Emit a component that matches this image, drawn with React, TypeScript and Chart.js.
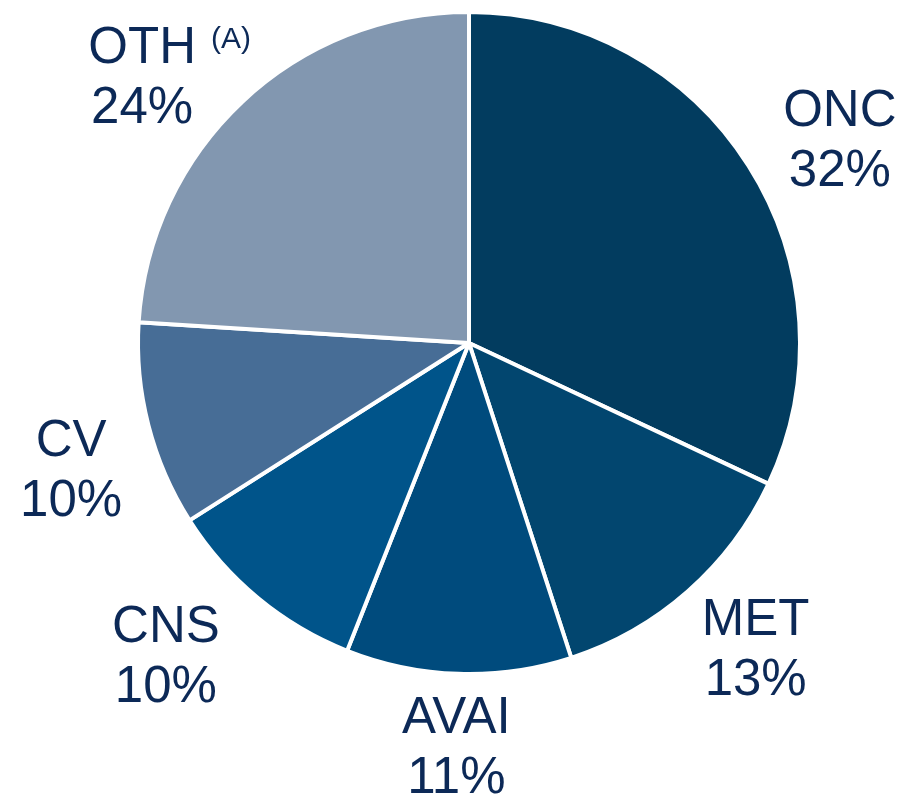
import React, { useEffect, useRef } from "react";
import { Chart, registerables } from "chart.js";

Chart.register(...registerables);

const categories = ["ONC", "MET", "AVAI", "CNS", "CV", "OTH"];
const shares = [32, 13, 11, 10, 10, 24];
const percentLabels = ["32%", "13%", "11%", "10%", "10%", "24%"];
const superscripts = ["", "", "", "", "", "(A)"];
const sliceColors = ["#023c5f", "#02466f", "#004b7d", "#00548a", "#476d96", "#8297b0"];

// label placement: distance from pie centre and angle adjustment (degrees)
const labelDistance = [424, 418, 402, 434, 417, 423];
const labelAngleNudge = [3.4, -1.9, 0, 4.7, -3.0, -7.4];

const TEXT_COLOR = "#0c2957";
const FONT_FAMILY = "'Liberation Sans', Arial, Helvetica, sans-serif";
const FONT_SIZE = 51;
const SUP_SIZE = 30;

const outsideLabels = {
  id: "outsideLabels",
  afterDraw(chart: any) {
    const ctx = chart.ctx;
    const meta = chart.getDatasetMeta(0);
    ctx.save();
    ctx.fillStyle = TEXT_COLOR;
    ctx.textAlign = "center";
    ctx.textBaseline = "alphabetic";
    meta.data.forEach((arc: any, i: number) => {
      const p = arc.getProps(["x", "y", "startAngle", "endAngle"], true);
      const mid = (p.startAngle + p.endAngle) / 2 + (labelAngleNudge[i] * Math.PI) / 180;
      const cx = p.x + Math.cos(mid) * labelDistance[i];
      const cy = p.y + Math.sin(mid) * labelDistance[i];
      const b1 = cy - 11.75;
      const b2 = cy + 48.25;
      ctx.font = `${FONT_SIZE}px ${FONT_FAMILY}`;
      ctx.textAlign = "center";
      ctx.fillText(categories[i], cx, b1);
      ctx.fillText(percentLabels[i], cx, b2);
      if (superscripts[i]) {
        const w = ctx.measureText(categories[i]).width;
        ctx.font = `${SUP_SIZE}px ${FONT_FAMILY}`;
        ctx.textAlign = "left";
        ctx.fillText(superscripts[i], cx + w / 2 + 15, b1 - 15);
      }
    });
    ctx.restore();
  },
};

export default function App() {
  const canvasRef = useRef<HTMLCanvasElement | null>(null);

  useEffect(() => {
    document.body.style.margin = "0";
    const canvas = canvasRef.current;
    if (!canvas) return;
    const chart = new Chart(canvas, {
      type: "pie",
      data: {
        labels: categories,
        datasets: [
          {
            data: shares,
            backgroundColor: sliceColors,
            borderColor: "#ffffff",
            borderWidth: 4,
          },
        ],
      },
      options: {
        responsive: false,
        animation: false,
        devicePixelRatio: 1,
        layout: { padding: { left: 136, right: 102, top: 10, bottom: 125 } },
        plugins: {
          legend: { display: false },
          tooltip: { enabled: false },
        },
      },
      plugins: [outsideLabels],
    });
    return () => chart.destroy();
  }, []);

  return (
    <div style={{ position: "fixed", left: 0, top: 0, width: 904, height: 801, background: "#fff" }}>
      <canvas ref={canvasRef} width={904} height={801} style={{ display: "block", width: 904, height: 801 }} />
    </div>
  );
}
